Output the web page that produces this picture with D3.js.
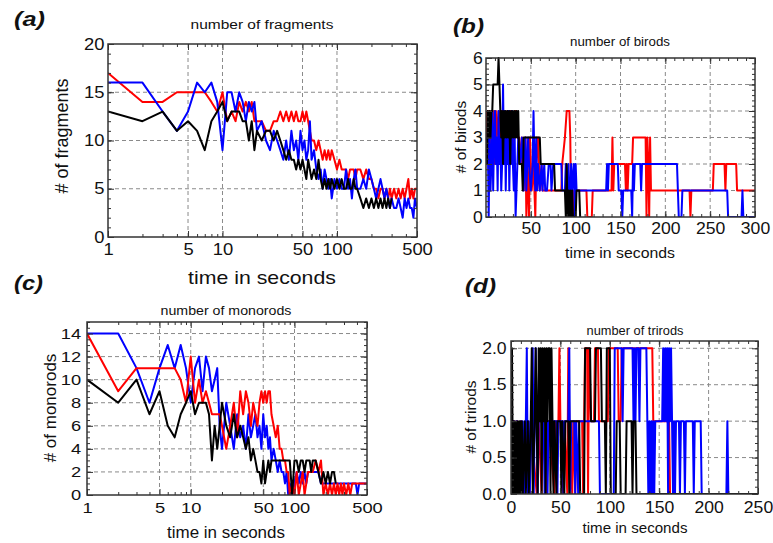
<!DOCTYPE html>
<html><head><meta charset="utf-8">
<script src="https://cdn.jsdelivr.net/npm/d3@7"></script>
<style>
body{margin:0;background:#fff;}
svg{display:block;}
</style></head><body>
<svg id="chart" width="773" height="543"></svg>
<script>
// ---------- DATA ----------
// shared sampling times (seconds) for the log-time panels (a) and (c)
const logTimes = [1,2,3,4,5,6,7,8,9,10,
  11,12,13,14,15,16,17,18,19,20,
  22,24,26,28,30,32,34,36,38,40,
  42,44,46,48,50,52,54,56,58,60,
  63,66,69,72,75,78,81,84,87,90,
  95,100,105,110,115,120,125,130,135,140,
  145,150,160,170,180,190,200,210,220,230,
  240,250,260,270,280,290,300,315,330,345,
  360,375,390,405,420,435,450,465,480,500];

// (a) number of fragments
const redA = [17,14,14,15,15,15,15,14,13,15,
  12,13,12,14,13,14,13,14,12,12,
  12,11,11,12,12,13,12,13,12,13,
  12,13,12,12,13,12,13,12,11,10,
  10,9,10,9,8,9,8,9,8,9,
  8,7,8,7,7,7,6,7,7,7,
  6,7,7,6,7,6,6,5,5,4,
  5,5,4,5,4,5,4,5,4,5,
  4,5,4,5,6,4,5,4,5,5];
const blueA = [16,16,13,11,13,16,15,16,14,9,
  15,15,13,15,14,12,14,13,14,11,
  12,10,9,11,10,9,8,10,8,11,
  9,10,8,11,9,10,8,9,12,8,
  9,7,6,7,5,7,6,5,6,4,
  6,5,6,5,5,7,5,6,4,6,
  7,5,5,6,5,7,6,5,4,5,
  6,5,4,5,4,3,4,3,3,4,
  3,2,4,3,4,3,3,2,4,3];
const blackA = [13,12,13,11,12,11,9,12,13,14,
  12,13,13,13,12,12,10,12,9,11,
  10,11,11,10,11,10,9,8,9,8,
  8,7,8,7,8,7,6,8,7,6,
  7,6,8,6,5,6,5,6,5,6,
  5,6,5,6,5,5,6,5,5,6,
  5,5,4,3,4,3,4,3,4,3,
  4,3,4,3,4,3,4,null,null,null,
  null,null,null,null,null,null,null,null,null,null];

// (c) number of monorods
const redC = [14,9,11,11,11,11,11,10,8,12,
  8,10,8,9,8,7,7,7,7,6,
  4,6,8,5,9,7,9,8,6,8,
  7,6,8,9,8,9,8,9,9,7,
  6,5,6,4,4,3,3,2,2,0,
  1,0,2,0,1,2,0,1,2,2,
  2,2,3,2,3,0,1,0,1,0,
  1,0,1,0,1,0,1,0,1,0,
  1,1,1,1,1,1,1,1,1,1];
const blueC = [14,14,11,8,11,13,11,13,11,8,
  11,12,9,12,11,9,10,11,6,4,
  8,6,4,7,5,6,4,7,5,6,
  7,5,6,4,7,5,6,4,5,3,
  4,3,2,3,2,2,1,2,0,1,
  0,1,2,1,2,1,2,1,2,2,
  2,2,2,2,1,1,1,1,1,1,
  1,1,1,1,1,1,1,1,1,1,
  1,1,1,0,1,1,1,1,1,1];
const blackC = [10,8,10,7,9,6,5,7,8,9,
  7,8,8,8,7,3,6,4,6,8,
  6,5,7,5,6,5,4,5,3,4,
  3,2,2,1,3,1,2,3,2,3,
  3,3,3,3,3,3,3,3,3,3,
  0,3,3,2,3,3,2,3,3,3,
  2,3,3,2,1,2,1,2,1,2,
  2,1,null,null,null,null,null,null,null,null,
  null,null,null,null,null,null,null,null,null,null];

// (b) number of birods: [time, count]
const redB = [[0,4],[1,3],[2,4],[3,2],[4,1],[5,3],[6,4],[8,3],[9,4],[10,2],[11,4],[12,3],[14,4],[16,3],[17,4],[19,2],[20,4],[22,3],[24,4],[26,3],[28,4],[30,2],[31,3],[33,4],[35,3],[37,3],[39,2],[40,3],[42,1],[44,3],[45,0],[46,2],[47,1],[48,0],[49,3],[51,1],[53,2],[55,0],[56,2],[58,3],[60,1],[62,2],[63,1],[84,1],[85,2],[88,3],[90,4],[93,4],[94,3],[95,0],[96,1],[97,0],[98,1],[112,1],[113,0],[118,0],[119,1],[140,1],[141,3],[142,1],[143,2],[155,2],[156,1],[157,2],[158,1],[159,2],[163,2],[164,3],[178,3],[179,0],[180,3],[181,2],[182,0],[183,3],[184,1],[227,1],[228,0],[229,1],[253,1],[254,2],[266,2],[267,1],[268,2],[279,2],[280,1],[300,1]];
const blueB = [[0,3],[1,2],[2,3],[3,0],[4,3],[5,1],[6,2],[7,4],[8,1],[9,3],[10,4],[11,2],[12,3],[13,1],[14,4],[15,2],[16,3],[17,1],[18,2],[19,5],[20,2],[21,4],[22,1],[23,3],[24,2],[25,4],[26,1],[27,3],[28,2],[29,4],[30,2],[31,1],[32,3],[33,0],[34,1],[35,2],[36,3],[38,2],[40,3],[42,1],[43,2],[44,3],[45,1],[47,3],[48,2],[50,1],[52,2],[53,4],[54,2],[55,1],[56,3],[57,1],[58,2],[60,1],[62,2],[63,1],[65,2],[66,1],[68,1],[70,2],[72,2],[73,1],[75,2],[84,2],[85,1],[88,1],[89,2],[90,1],[92,2],[93,0],[94,1],[95,2],[96,1],[98,2],[99,0],[100,2],[101,1],[134,1],[135,2],[136,1],[137,2],[147,2],[148,1],[151,1],[152,0],[153,1],[162,1],[163,0],[164,2],[165,1],[166,2],[172,2],[173,1],[174,2],[213,2],[214,1],[215,0],[218,0],[219,1],[269,1],[270,0],[285,0],[286,1],[287,0],[300,0]];
const blackB = [[0,3],[1,2],[2,4],[3,3],[4,4],[5,3],[6,4],[7,4],[8,5],[13,5],[14,6],[15,5],[16,4],[17,3],[18,4],[19,2],[20,4],[21,3],[22,4],[23,3],[24,4],[25,3],[26,4],[27,2],[28,4],[29,3],[30,4],[31,3],[32,4],[33,3],[34,4],[35,3],[36,4],[37,2],[40,2],[41,1],[42,3],[60,3],[61,2],[62,2],[76,2],[77,1],[78,1],[88,1],[89,0],[90,2],[91,0],[92,1],[93,0],[94,1],[95,0],[96,1],[97,0],[100,0],[101,1],[104,1],[105,0]];

// (d) number of trirods: [time, count]
const redD = [[0,1],[2,0],[3,1],[5,0],[6,1],[9,0],[10,1],[13,0],[15,1],[19,0],[20,1],[26,0],[28,1],[31,0],[32,1],[36,0],[38,1],[44,0],[45,1],[48,1],[49,2],[50,1],[53,0],[54,1],[57,0],[58,2],[59,1],[62,0],[63,1],[65,0],[66,1],[72,1],[73,0],[75,2],[77,2],[78,0],[79,2],[81,1],[84,1],[85,2],[88,2],[89,1],[98,1],[99,2],[108,2],[109,1],[111,1],[112,2],[124,2],[125,1],[126,2],[143,2],[144,1],[160,1],[161,0],[250,0]];
const blueD = [[0,1],[1,0],[3,1],[4,0],[6,1],[7,0],[10,1],[11,0],[12,1],[13,0],[15,1],[16,2],[17,0],[18,1],[19,0],[21,1],[22,2],[23,0],[24,1],[25,2],[26,1],[27,0],[28,1],[33,1],[34,0],[36,1],[37,0],[38,1],[46,1],[47,0],[48,1],[52,1],[53,0],[54,1],[58,1],[59,2],[60,0],[61,1],[64,1],[65,0],[66,1],[68,0],[69,1],[89,1],[90,0],[104,0],[105,2],[112,2],[113,1],[114,2],[123,2],[124,1],[125,2],[126,1],[127,2],[129,2],[130,1],[131,2],[137,2],[138,1],[139,0],[140,1],[141,0],[142,1],[143,0],[144,1],[145,0],[146,1],[153,1],[154,2],[155,1],[156,2],[157,1],[158,2],[159,0],[160,2],[161,1],[162,2],[163,1],[164,0],[165,1],[166,0],[167,1],[170,1],[171,0],[172,1],[175,1],[176,0],[177,1],[184,1],[185,0],[186,1],[192,1],[193,0],[218,0],[219,1],[220,0],[250,0]];
const blackD = [[0,0],[1,2],[2,0],[3,1],[4,0],[5,1],[6,0],[7,1],[8,0],[9,1],[10,0],[11,1],[12,0],[14,1],[15,0],[17,1],[18,0],[20,1],[21,2],[22,0],[24,1],[25,2],[26,1],[27,0],[28,2],[29,1],[30,2],[31,0],[32,2],[33,1],[34,2],[35,0],[36,2],[37,1],[38,2],[39,2],[40,0],[41,2],[42,1],[43,0],[44,1],[46,0],[47,1],[50,1],[51,0],[52,1],[54,0],[55,1],[58,1],[59,0],[60,1],[69,1],[70,0],[74,0],[75,2],[80,2],[81,1],[85,1],[86,2],[91,2],[92,1],[95,1],[96,0],[97,2],[100,2],[101,0],[106,0],[107,1],[110,1],[111,0],[116,0],[117,1],[122,1],[123,0],[124,1],[126,1],[127,0],[250,0]];

// tick labels
const logTickLabels = [1,5,10,50,100,500];
const ticksYA = [0,5,10,15,20];
const ticksXB = [50,100,150,200,250,300];
const ticksYB = [0,1,2,3,4,5,6];
const ticksYC = [0,2,4,6,8,10,12,14];
const ticksXD = [0,50,100,150,200,250];
const ticksYD = [0,0.5,1,1.5,2];

// ---------- DRAWING ----------
const FONT = '"Liberation Sans", Arial, Helvetica, sans-serif';
const AXC = '#333';
const svg = d3.select('#chart');
const zip = (ts, vs) => ts.map((t, i) => [t, vs[i]]);
const logMinor = [2,3,4,6,7,8,9,20,30,40,60,70,80,90,200,300,400];

function label(txt, x, y, size, o = {}) {
  const g = svg.append('g').attr('transform', `translate(${x},${y})` + (o.rotate ? ' rotate(-90)' : ''));
  const t = g.append('text').text(txt)
    .attr('font-family', FONT).attr('font-size', size).attr('fill', '#111')
    .attr('text-anchor', o.anchor || 'middle')
    .attr('font-weight', o.bold ? 'bold' : null)
    .attr('font-style', o.italic ? 'italic' : null);
  if (o.width) {
    const w = t.node().getComputedTextLength();
    t.attr('transform', `scale(${o.width / w},1)`);
  }
}

function drawPanel(p) {
  const x = (p.log ? d3.scaleLog() : d3.scaleLinear()).domain(p.xDomain).range([p.left, p.right]);
  const y = d3.scaleLinear().domain(p.yDomain).range([p.bottom, p.top]);
  const g = svg.append('g');

  // grid
  g.append('g').selectAll('line').data(p.xGrid).join('line')
    .attr('x1', d => x(d)).attr('x2', d => x(d)).attr('y1', p.top).attr('y2', p.bottom)
    .attr('stroke', '#8a8a8a').attr('stroke-width', 1).attr('stroke-dasharray', '4,3');
  g.append('g').selectAll('line').data(p.yGrid).join('line')
    .attr('y1', d => y(d)).attr('y2', d => y(d)).attr('x1', p.left).attr('x2', p.right)
    .attr('stroke', '#8a8a8a').attr('stroke-width', 1).attr('stroke-dasharray', '4,3');

  // series
  const cid = 'clip_' + p.name;
  svg.append('clipPath').attr('id', cid).append('rect')
    .attr('x', p.left).attr('y', p.top - 1).attr('width', p.right - p.left).attr('height', p.bottom - p.top + 1);
  const line = d3.line().defined(d => d[1] != null).x(d => x(d[0])).y(d => y(d[1]));
  const lg = g.append('g').attr('clip-path', `url(#${cid})`);
  p.series.forEach(s => {
    lg.append('path').datum(s.data).attr('d', line)
      .attr('fill', 'none').attr('stroke', s.color).attr('stroke-width', 2)
      .attr('stroke-linejoin', 'round');
  });

  // frame
  g.append('rect').attr('x', p.left).attr('y', p.top)
    .attr('width', p.right - p.left).attr('height', p.bottom - p.top)
    .attr('fill', 'none').attr('stroke', AXC).attr('stroke-width', 1.5);

  function put(axis, tx, ty, textStyle) {
    const a = g.append('g').attr('transform', `translate(${tx},${ty})`).call(axis);
    a.select('.domain').remove();
    a.selectAll('line').attr('stroke', AXC).attr('stroke-width', 1);
    a.selectAll('text').attr('font-family', FONT).attr('font-size', p.tickFont).attr('fill', '#111')
      .attr('transform', `scale(${p.tickSx},1)`);
    return a;
  }
  // bottom / top
  put(d3.axisBottom(x).tickValues(p.xTicks).tickFormat(p.xFmt).tickSizeInner(-6).tickSizeOuter(0).tickPadding(p.xPad), 0, p.bottom);
  put(d3.axisBottom(x).tickValues(p.xMinor).tickFormat('').tickSizeInner(-3).tickSizeOuter(0), 0, p.bottom);
  put(d3.axisTop(x).tickValues(p.xTicks).tickFormat('').tickSizeInner(-6).tickSizeOuter(0), 0, p.top);
  put(d3.axisTop(x).tickValues(p.xMinor).tickFormat('').tickSizeInner(-3).tickSizeOuter(0), 0, p.top);
  // left / right
  put(d3.axisLeft(y).tickValues(p.yTicks).tickFormat(p.yFmt).tickSizeInner(-6).tickSizeOuter(0).tickPadding(p.yPad), p.left, 0);
  put(d3.axisLeft(y).tickValues(p.yMinor).tickFormat('').tickSizeInner(-3).tickSizeOuter(0), p.left, 0);
  put(d3.axisRight(y).tickValues(p.yTicks).tickFormat('').tickSizeInner(-6).tickSizeOuter(0), p.right, 0);
  put(d3.axisRight(y).tickValues(p.yMinor).tickFormat('').tickSizeInner(-3).tickSizeOuter(0), p.right, 0);
}

const rng = (a, b, s) => d3.range(a, b + s / 2, s).map(v => +v.toFixed(3));

// (a)
drawPanel({
  name: 'a', log: true, xDomain: [1, 500], yDomain: [0, 20],
  left: 108, right: 417, top: 44, bottom: 237,
  xTicks: logTickLabels, xMinor: logMinor, xFmt: d3.format('d'), xPad: 7,
  yTicks: ticksYA, yMinor: rng(0, 20, 1), yFmt: d3.format('d'), yPad: 3,
  xGrid: [5, 10, 50, 100], yGrid: [5, 10, 15],
  tickFont: 16, tickSx: 1.15,
  series: [
    {color: '#ff0000', data: zip(logTimes, redA)},
    {color: '#0000ff', data: zip(logTimes, blueA)},
    {color: '#000000', data: zip(logTimes, blackA)}
  ]
});
// (b)
drawPanel({
  name: 'b', log: false, xDomain: [0, 300], yDomain: [0, 6],
  left: 486, right: 755, top: 58, bottom: 217,
  xTicks: ticksXB, xMinor: rng(10, 290, 10), xFmt: d3.format('d'), xPad: 6,
  yTicks: ticksYB, yMinor: rng(0, 6, 0.2), yFmt: d3.format('d'), yPad: 3,
  xGrid: [50, 100, 150, 200, 250], yGrid: [1, 2, 3, 4, 5],
  tickFont: 16, tickSx: 1.1,
  series: [
    {color: '#ff0000', data: redB},
    {color: '#0000ff', data: blueB},
    {color: '#000000', data: blackB}
  ]
});
// (c)
drawPanel({
  name: 'c', log: true, xDomain: [1, 500], yDomain: [0, 15],
  left: 87, right: 367, top: 322, bottom: 495,
  xTicks: logTickLabels, xMinor: logMinor, xFmt: d3.format('d'), xPad: 7,
  yTicks: ticksYC, yMinor: rng(0, 15, 0.5), yFmt: d3.format('d'), yPad: 5,
  xGrid: [5, 10, 50, 100], yGrid: [2, 4, 6, 8, 10, 12, 14],
  tickFont: 15.5, tickSx: 1.18,
  series: [
    {color: '#0000ff', data: zip(logTimes, blueC)},
    {color: '#ff0000', data: zip(logTimes, redC)},
    {color: '#000000', data: zip(logTimes, blackC)}
  ]
});
// (d)
drawPanel({
  name: 'd', log: false, xDomain: [0, 250], yDomain: [0, 2.1],
  left: 511, right: 758, top: 341, bottom: 494,
  xTicks: ticksXD, xMinor: rng(10, 240, 10), xFmt: d3.format('d'), xPad: 8,
  yTicks: ticksYD, yMinor: rng(0, 2.1, 0.1), yFmt: d3.format('.1f'), yPad: 4,
  xGrid: [50, 100, 150, 200], yGrid: [0.5, 1, 1.5, 2],
  tickFont: 16, tickSx: 1.1,
  series: [
    {color: '#ff0000', data: redD},
    {color: '#0000ff', data: blueD},
    {color: '#000000', data: blackD}
  ]
});

// titles, axis labels, panel letters
label('number of fragments', 262, 29, 13.5, {width: 143});
label('time in seconds', 262, 284, 18, {width: 148});
label('# of fragments', 68, 136, 18, {rotate: true});
label('(a)', 14, 26, 20, {anchor: 'start', bold: true, italic: true, width: 31});

label('number of birods', 620, 46, 12.5, {width: 100});
label('time in seconds', 620, 258, 15.5, {width: 110});
label('# of birods', 466, 137, 15.5, {rotate: true});
label('(b)', 453, 33, 20, {anchor: 'start', bold: true, italic: true, width: 31});

label('number of monorods', 226, 315, 12.5, {width: 131});
label('time in seconds', 226, 538, 16, {width: 118});
label('# of monorods', 56, 408, 17, {rotate: true});
label('(c)', 14, 290, 20, {anchor: 'start', bold: true, italic: true, width: 29});

label('number of trirods', 635, 335, 12, {width: 97});
label('time in seconds', 635, 533, 15, {width: 105});
label('# of trirods', 476, 417, 15.5, {rotate: true});
label('(d)', 465, 293, 20, {anchor: 'start', bold: true, italic: true, width: 31});
</script>
</body></html>
